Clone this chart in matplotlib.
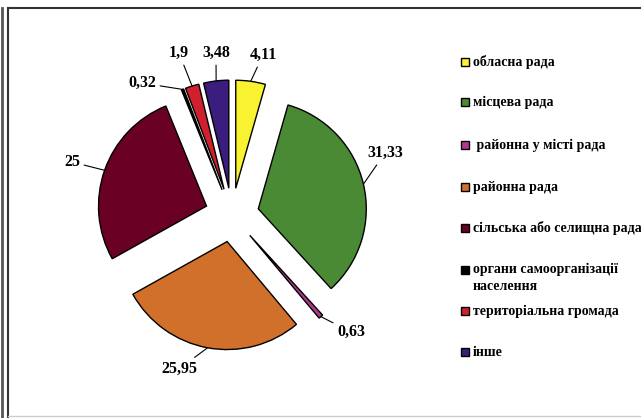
import matplotlib
matplotlib.use('Agg')
import matplotlib.pyplot as plt
from matplotlib.patches import Rectangle
import numpy as np

# data, clockwise from the top
categories = ['обласна рада', 'місцева рада', ' районна у місті рада', 'районна рада',
	'сільська або селищна рада', 'органи самоорганізації\nнаселення',
	'територіальна громада', 'інше']
values = [4.11, 31.33, 0.63, 25.95, 25.0, 0.32, 1.9, 3.48]
value_labels = ['4,11', '31,33', '0,63', '25,95', '25', '0,32', '1,9', '3,48']
colors = ['#F8F230', '#4B8A35', '#B0388F', '#D1702A', '#6A0024', '#000000', '#D0202E', '#3B1D7D']

# layout (pixel coords, y down)
W, H = 641, 418
cx, cy, R = 232, 215, 108
label_pos = [(263, 55), (385, 153), (351, 332), (179, 369), (72, 162), (142, 83), (179, 53), (216, 53)]
legend_y = [62, 102, 145, 187, 228, 270, 311, 352]

plt.rcParams['font.family'] = ['Liberation Serif', 'DejaVu Serif']
plt.rcParams['font.weight'] = 'bold'

fig = plt.figure(figsize=(W/100, H/100), dpi=100)
ax = fig.add_axes([0, 0, 1, 1])

# explode is in data units here, so scale by the radius
wedges, _ = ax.pie(values, colors=colors, startangle=90, counterclock=False,
	explode=[0.25*R]*len(values), center=(cx, H-cy), radius=R,
	wedgeprops=dict(edgecolor='black', linewidth=1.0))

for w, txt, (lx, ly) in zip(wedges, value_labels, label_pos):
	th = np.radians((w.theta1 + w.theta2)/2)
	px = w.center[0] + w.r*np.cos(th)
	py = w.center[1] + w.r*np.sin(th)
	ax.annotate(txt, xy=(px, py), xytext=(lx, H-ly), ha='center', va='center',
		fontsize=11.5, fontweight='bold',
		arrowprops=dict(arrowstyle='-', color='black', lw=0.8, shrinkA=1, shrinkB=0))

ax.set_aspect('auto')
ax.set_xlim(0, W)
ax.set_ylim(0, H)
ax.axis('off')

# legend drawn by hand to keep the fixed slot spacing
for lab, col, y in zip(categories, colors, legend_y):
	ax.add_patch(Rectangle((461, H-y-4), 8, 8, facecolor=col, edgecolor='black', lw=1.0))
	if '\n' in lab:
		ax.text(473, H-y+7, lab, ha='left', va='top', fontsize=10, fontweight='bold', linespacing=1.4)
	else:
		ax.text(473, H-y, lab, ha='left', va='center', fontsize=10, fontweight='bold')

# frame
ax.plot([1.5, 1.5], [0, H-8], color='#555555', lw=2)
ax.plot([8, 8], [0, H-8], color='#333333', lw=1.5)
ax.plot([8, W], [H-8, H-8], color='#333333', lw=1.5)
ax.plot([8, W], [2, 2], color='#cccccc', lw=1)

fig.savefig('out.png', dpi=100)
